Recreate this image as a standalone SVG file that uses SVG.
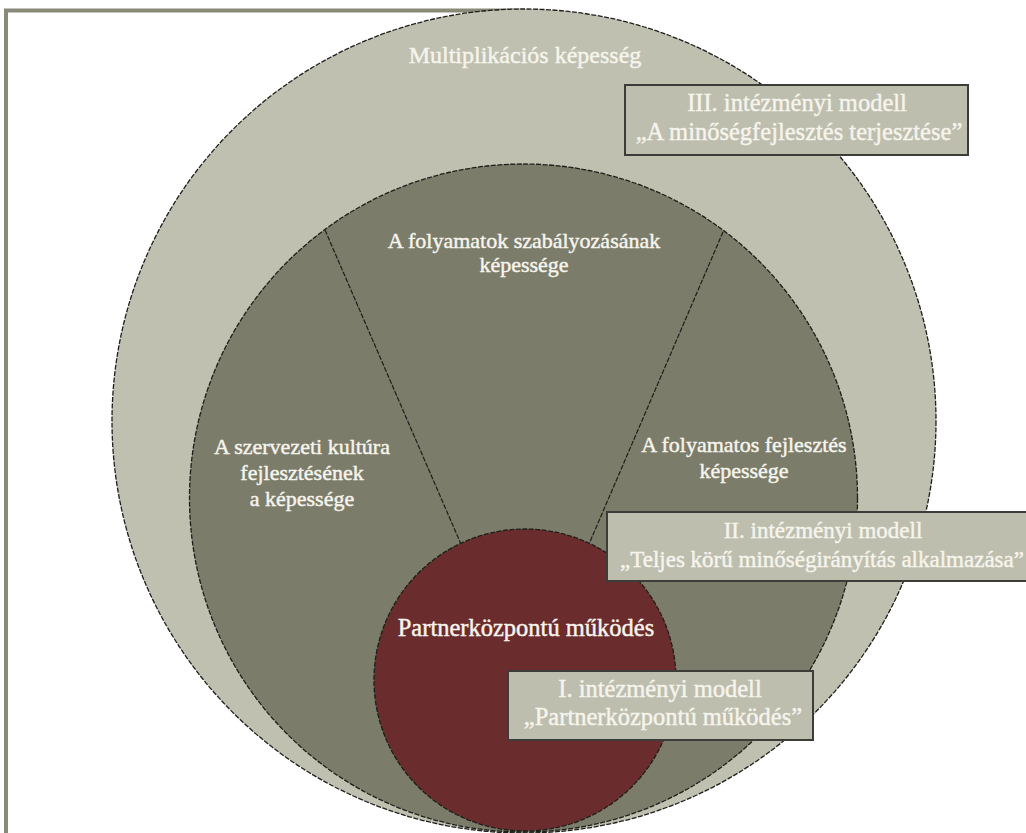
<svg xmlns="http://www.w3.org/2000/svg" width="1026" height="833" viewBox="0 0 1026 833">
  <style>
    .ring { stroke: #1e1e1a; stroke-width: 1.3; stroke-dasharray: 5 1.5; }
    .divider { stroke: #1e1e1a; stroke-width: 1.2; stroke-dasharray: 5 1.5; fill: none; }
    .label { font-family: "Liberation Serif", "DejaVu Serif", serif; font-size: 22px; fill: #f6f4ec; stroke: #f6f4ec; stroke-width: 0.45; text-anchor: middle; }
    .big { font-size: 24px; }
    .boxtxt { font-size: 24.5px; }
    .boxtxt2 { font-size: 23px; }
    .box { fill: #bdbeae; stroke: #3c3c38; stroke-width: 2; }
  </style>
  <rect width="1026" height="833" fill="#ffffff"/>

  <!-- frame -->
  <g id="frame" stroke="#8a8a78" stroke-width="4" fill="none">
    <line x1="4" y1="10.5" x2="520" y2="10.5"/>
    <line x1="6" y1="9" x2="6" y2="833"/>
  </g>

  <!-- outer ring: multiplication capability -->
  <g id="outer">
    <circle class="ring" cx="524" cy="421" r="412" fill="#bfc0b0"/>
    <text class="label big" x="525" y="63">Multiplikációs képesség</text>
  </g>

  <!-- middle ring: three capabilities -->
  <g id="middle">
    <circle class="ring" cx="523.5" cy="498" r="334" fill="#7b7c6a"/>
  </g>

  <g id="connectors">
    <line class="divider" x1="325" y1="230" x2="470" y2="565"/>
    <line class="divider" x1="723" y1="232" x2="580" y2="565"/>
  </g>

  <g id="sector-top">
    <text class="label" x="524" y="248">A folyamatok szabályozásának</text>
    <text class="label" x="524" y="272">képessége</text>
  </g>
  <g id="sector-left">
    <text class="label" x="302" y="454">A szervezeti kultúra</text>
    <text class="label" x="302" y="480">fejlesztésének</text>
    <text class="label" x="302" y="506">a képessége</text>
  </g>
  <g id="sector-right">
    <text class="label" x="744" y="452">A folyamatos fejlesztés</text>
    <text class="label" x="744" y="478">képessége</text>
  </g>

  <!-- core -->
  <g id="core">
    <circle class="ring" cx="525" cy="680" r="151" fill="#6b2c2d"/>
    <text class="label big" x="526" y="636" style="font-size:24.5px">Partnerközpontú működés</text>
  </g>

  <!-- model boxes -->
  <g id="model-3">
    <rect class="box" x="625" y="85" width="343" height="70"/>
    <text class="label boxtxt" x="797" y="111">III. intézményi modell</text>
    <text class="label boxtxt" x="799" y="140">„A minőségfejlesztés terjesztése”</text>
  </g>
  <g id="model-2">
    <rect class="box" x="607" y="512" width="430" height="69"/>
    <text class="label boxtxt2" x="823" y="538">II. intézményi modell</text>
    <text class="label boxtxt2" x="822" y="567">„Teljes körű minőségirányítás alkalmazása”</text>
  </g>
  <g id="model-1">
    <rect class="box" x="508" y="671" width="305" height="69"/>
    <text class="label boxtxt" x="660" y="697">I. intézményi modell</text>
    <text class="label boxtxt" x="663" y="725">„Partnerközpontú működés”</text>
  </g>
</svg>
